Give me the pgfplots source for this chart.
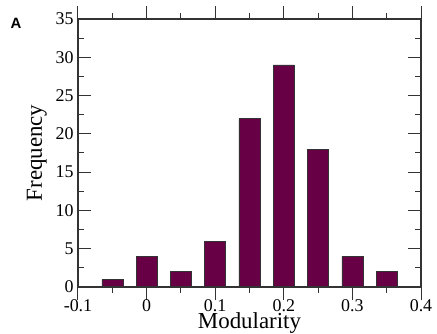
\documentclass[border=0pt]{standalone}
\usepackage{fontspec}
\setmainfont{Liberation Serif}
\newfontfamily\lsans{Liberation Sans}
\usepackage{pgfplots}
\pgfplotsset{compat=1.18}
\definecolor{barc}{RGB}{104,0,70}
\begin{document}
\begin{tikzpicture}
\begin{axis}[
  name=ax,
  scale only axis,
  width=343bp, height=268bp,
  xmin=-0.1, xmax=0.4, ymin=0, ymax=35,
  xtick={-0.1,0,0.1,0.2,0.3,0.4},
  xticklabels={-0.1,0,0.1,0.2,0.3,0.4},
  ytick={0,5,10,15,20,25,30,35},
  minor x tick num=1, minor y tick num=1,
  tick align=inside,
  major tick length=13bp, minor tick length=6bp,
  axis line style={line width=1.2bp, black!80},
  every tick/.style={line width=1bp, black!80},
  axis on top,
  /pgf/number format/assume math mode=true,
  tick label style={font=\fontsize{18}{20}\selectfont},
  xticklabel style={anchor=base, inner sep=0.5bp, yshift=-11bp},
  yticklabel style={xshift=-1bp},
  xlabel={Modularity}, ylabel={Frequency},
  label style={font=\fontsize{23}{25}\selectfont},
  xlabel style={at={(axis description cs:0.5,0)}, anchor=base, inner sep=0.5bp, yshift=-41bp},
  ylabel style={yshift=2bp},
  ybar, bar width=21bp,
]
\addplot[fill=barc, draw=black!80, line width=0.5bp] coordinates {
 (-0.05,1) (0,4) (0.05,2) (0.1,6) (0.15,22) (0.2,29) (0.25,18) (0.3,4) (0.35,2)
};
\end{axis}
\node[font=\lsans\bfseries\fontsize{15}{16}\selectfont] at ([shift={(-62bp,-4bp)}]ax.north west) {A};
\node[font=\lsans\bfseries\fontsize{15}{16}\selectfont, anchor=north] at ([shift={(-62bp,-45bp)}]ax.south west) {B};
\pgfresetboundingbox
\path ([shift={(-78bp,-47bp)}]ax.south west) rectangle ([shift={(16bp,19bp)}]ax.north east);
\end{tikzpicture}
\end{document}
